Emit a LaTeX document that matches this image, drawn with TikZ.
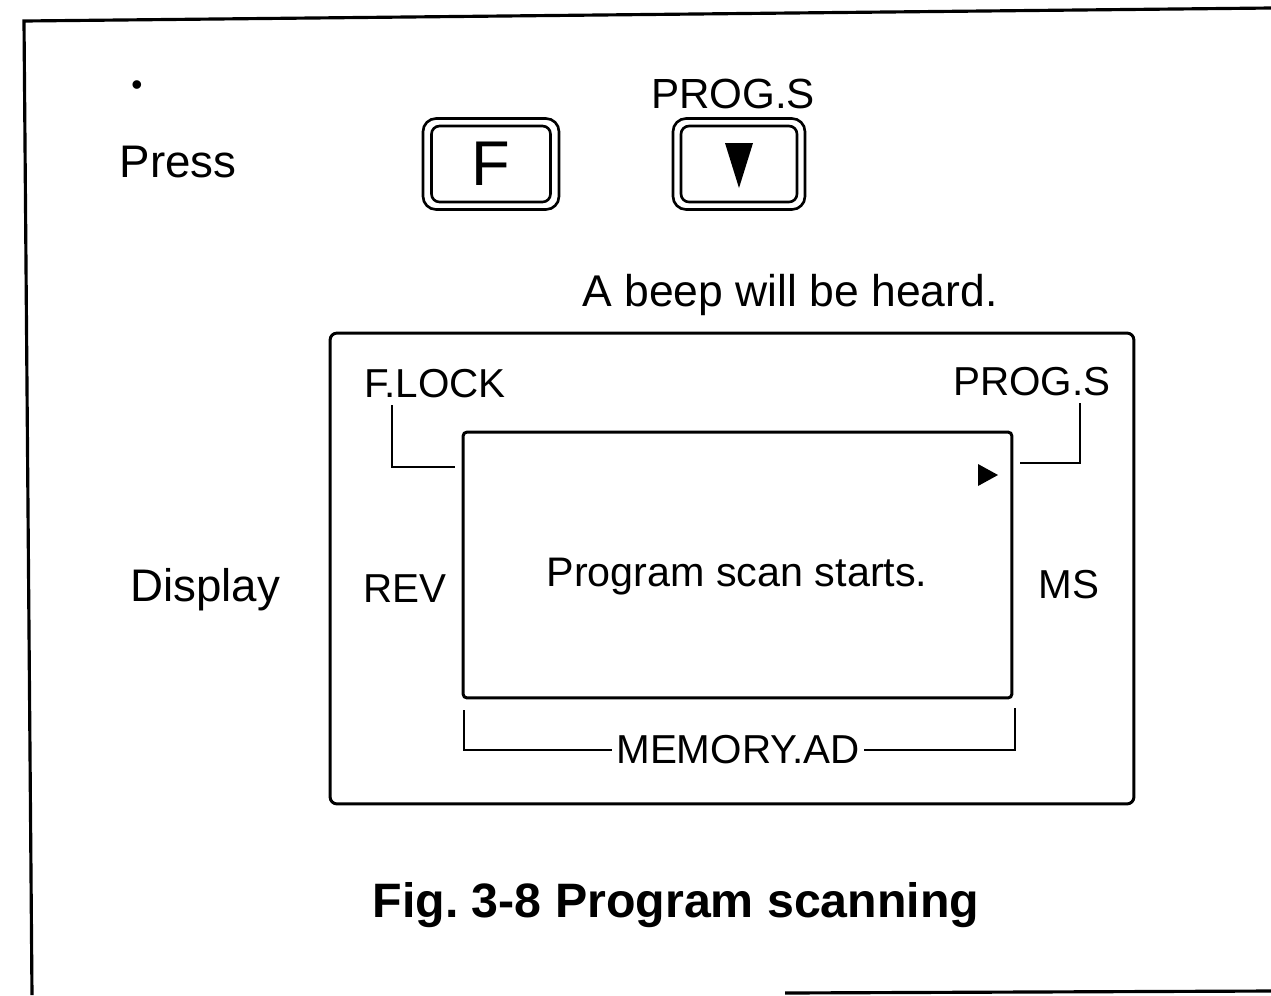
\documentclass[tikz,border=0pt]{standalone}
\usepackage{fontspec}
\setmainfont{Liberation Sans}
\frenchspacing
\begin{document}
\begin{tikzpicture}[x=0.02cm,y=-0.02cm,line width=1.5pt,
  lbl/.style={inner sep=0pt,font=\fontsize{23}{26}\selectfont},
  big/.style={inner sep=0pt,font=\fontsize{26}{30}\selectfont},
  keyouter/.style={draw,rounded corners=0.26cm,inner sep=0pt},
  keyinner/.style={draw,rounded corners=0.16cm,inner sep=0pt},
  panel/.style={draw,rounded corners=0.14cm,inner sep=0pt},
  leader/.style={line width=1.3pt}]
\useasboundingbox (0,0) rectangle (1271,995);
% page frame
\coordinate (ftr) at (1271,8);
\coordinate (ftl) at (24,21);
\coordinate (fbl) at (32,995);
\coordinate (fb1) at (785,993);
\coordinate (fb2) at (1271,991);
\draw[line width=1.8pt] (ftr) -- (ftl) -- (fbl);
\draw[line width=1.8pt] (fb1) -- (fb2);
% bullet and Press
\node[inner sep=0pt,font=\fontsize{18}{20}\selectfont] (bul) at (137,88) {•};
\node[big] (press) at (178,162) {Press};
% F key
\node[keyouter,minimum width=2.72cm,minimum height=1.82cm] (fo) at (491,164) {};
\node[keyinner,minimum width=2.38cm,minimum height=1.52cm,font=\fontsize{36}{40}\selectfont] (fi) at (491,164) {F};
% PROG.S key
\node[inner sep=0pt,font=\fontsize{24}{28}\selectfont] (progs) at (733,94) {PROG.S};
\node[keyouter,minimum width=2.64cm,minimum height=1.82cm] (po) at (739,164) {};
\node[keyinner,minimum width=2.32cm,minimum height=1.52cm] (pi) at (739,164) {};
\fill (725,143) -- (753,143) -- (739,188) -- cycle;
% beep
\node[inner sep=0pt,font=\fontsize{25.3}{30}\selectfont] (beep) at (790,295) {A beep will be heard.};
% display label
\node[big] (disp) at (205,590) {Display};
% display panel
\node[panel,line width=1.7pt,minimum width=16.08cm,minimum height=9.42cm] (outer) at (732,568.5) {};
\node[draw,rounded corners=0.08cm,line width=1.7pt,inner sep=0pt,minimum width=10.98cm,minimum height=5.32cm] (lcd) at (737.5,565) {};
\node[lbl] (flock) at (435,384) {F.LOCK};
\node[lbl] (progs2) at (1032,382) {PROG.S};
\coordinate (fl1) at (392,405);
\coordinate (fl2) at (392,467);
\coordinate (fl3) at (455,467);
\draw[leader] (fl1) -- (fl2) -- (fl3);
\coordinate (pr1) at (1080,403);
\coordinate (pr2) at (1080,463);
\coordinate (pr3) at (1020,463);
\draw[leader] (pr1) -- (pr2) -- (pr3);
\fill (978,464) -- (998,475) -- (978,486) -- cycle;
\node[inner sep=0pt,font=\fontsize{23.5}{28}\selectfont] (scan) at (737,577) {Program scan starts.};
\node[lbl] (rev) at (405,589) {REV};
\node[lbl] (ms) at (1069,585) {MS};
% memory bracket
\node[lbl,inner xsep=2pt] (mem) at (738,750) {MEMORY.AD};
\coordinate (m1) at (464,710);
\coordinate (m2) at (464,750);
\coordinate (m3) at (1015,708);
\coordinate (m4) at (1015,750);
\draw[leader] (m1) -- (m2) -- (mem.west);
\draw[leader] (m3) -- (m4) -- (mem.east);
% caption
\node[inner sep=0pt,font=\bfseries\fontsize{27.5}{32}\selectfont] (cap) at (676,905) {Fig. 3-8 Program scanning};
\end{tikzpicture}
\end{document}
